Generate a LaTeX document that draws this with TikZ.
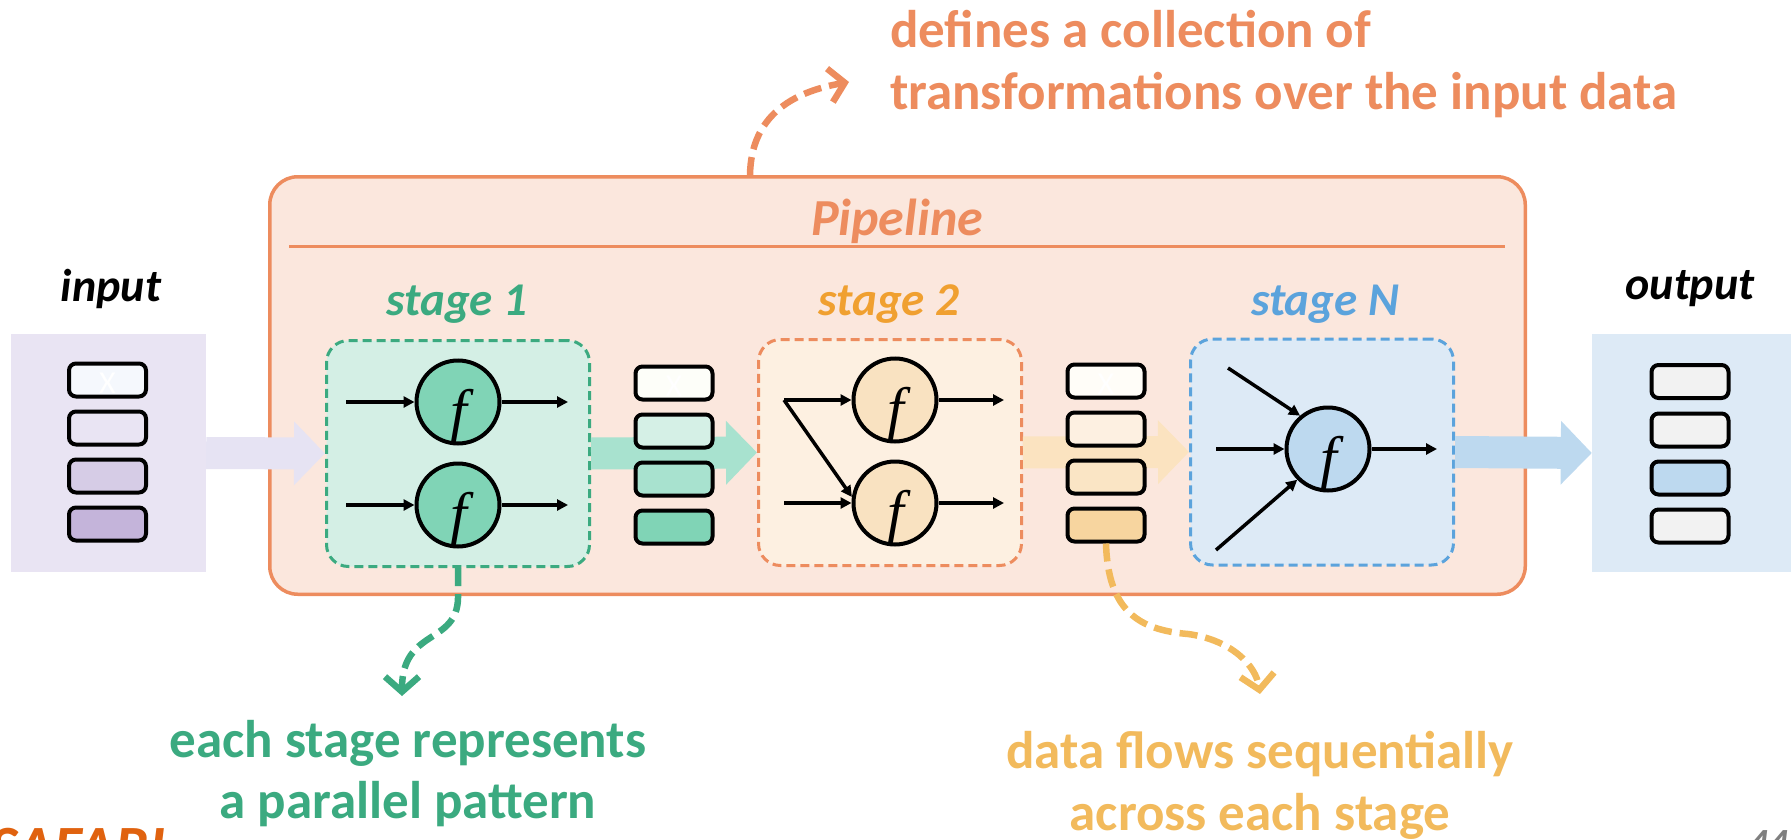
\documentclass[tikz,border=0pt]{standalone}
\usepackage{fontspec}
\setmainfont{Carlito}
\newfontfamily\fserif{Liberation Serif}
\usetikzlibrary{arrows.meta}
\definecolor{pipeO}{HTML}{ED8C5E}
\definecolor{pipeF}{HTML}{FBE7DD}
\definecolor{grn}{HTML}{3BAA80}
\definecolor{grnF}{HTML}{D4EFE5}
\definecolor{grnC}{HTML}{80D4B6}
\definecolor{grnM}{HTML}{A8E2CF}
\definecolor{grnL}{HTML}{D5F0E6}
\definecolor{stwo}{HTML}{F0A030}
\definecolor{ylwA}{HTML}{F2BA5C}
\definecolor{orgF}{HTML}{FDF0E1}
\definecolor{orgC}{HTML}{F9E2C1}
\definecolor{orgM}{HTML}{FAE5C5}
\definecolor{orgD}{HTML}{F7D59F}
\definecolor{orgA}{HTML}{FBE3C0}
\definecolor{blu}{HTML}{5BA3DC}
\definecolor{bluF}{HTML}{DDEAF6}
\definecolor{bluC}{HTML}{BDD9EF}
\definecolor{lavF}{HTML}{E9E4F3}
\definecolor{lavA}{HTML}{E6E3F3}
\definecolor{lav2}{HTML}{D6CCE6}
\definecolor{lav3}{HTML}{C4B4DA}
\definecolor{safari}{HTML}{E0620F}
\definecolor{cellG}{HTML}{F2F2F2}
\definecolor{pgnum}{HTML}{7F7F7F}
\begin{document}
\begin{tikzpicture}[x=1pt,y=-1pt,
  cell/.style={draw=black, line width=4pt, rounded corners=7pt, minimum width=77pt, minimum height=33pt, inner sep=0pt},
  fcirc/.style={circle, draw=black, line width=4pt, minimum size=83pt, inner sep=0pt},
  ftext/.style={anchor=base, inner sep=0pt, font=\fserif\itshape\fontsize{60}{60}\selectfont},
  stagebox/.style={dashed, dash pattern=on 9pt off 5pt, line width=3pt, rounded corners=22pt, minimum width=263pt, minimum height=226pt, inner sep=0pt},
  fatarr/.style={line width=32pt, -{Triangle[length=31pt,width=62pt]}},
  sarr/.style={line width=3.5pt, -{Triangle[length=11pt,width=11pt]}},
  note/.style={line width=6.5pt, dash pattern=on 18pt off 8pt, -{Straight Barb[length=15pt,width=34pt]}},
  lbl/.style={inner sep=0pt, font=\bfseries\itshape\fontsize{47}{50}\selectfont},
  ann/.style={inner sep=0pt, anchor=base, font=\bfseries\fontsize{53}{60}\selectfont},
  xmark/.style={inner sep=0pt, text=white, font=\fontsize{32}{32}\selectfont}
]
\clip (0,0) rectangle (1791,840);
\useasboundingbox (0,0) rectangle (1791,840);

% pipeline container
\node[draw=pipeO, fill=pipeF, line width=3.5pt, rounded corners=28pt, minimum width=1255.5pt, minimum height=417.5pt, inner sep=0pt] (pipe) at (897.5,385.5) {};
\coordinate (ulA) at (289,246);
\coordinate (ulB) at (1505,246);
\draw[pipeO, line width=3pt] (ulA) -- (ulB);
\node[lbl, text=pipeO, font=\bfseries\itshape\fontsize{52}{54}\selectfont] (ptitle) at (897,221) {Pipeline};

% input / output boxes
\node[fill=lavF, minimum width=195pt, minimum height=238pt, inner sep=0pt] (inbox) at (108.5,453) {};
\node[fill=bluF, minimum width=199pt, minimum height=238pt, inner sep=0pt] (outbox) at (1691.5,453) {};
\node[lbl, font=\bfseries\itshape\fontsize{46}{50}\selectfont] (inlbl) at (111,289) {input};
\node[lbl, font=\bfseries\itshape\fontsize{46}{50}\selectfont] (outlbl) at (1690,289) {output};

% stage boxes
\node[stagebox, draw=grn, fill=grnF] (st1) at (458,453.5) {};
\node[stagebox, draw=pipeO, fill=orgF] (st2) at (890,452.5) {};
\node[stagebox, draw=blu, fill=bluF] (stN) at (1322,452) {};
\node[lbl, text=grn] (st1lbl) at (457,304) {stage 1};
\node[lbl, text=stwo] (st2lbl) at (889,304) {stage 2};
\node[lbl, text=blu] (stNlbl) at (1325,304) {stage N};

% fat flow arrows
\draw[fatarr, lavA] (inbox.east) -- (st1.west);
\draw[fatarr, grnM] (st1.east) -- (st2.west);
\draw[fatarr, orgA] (st2.east) -- (stN.west);
\draw[fatarr, bluC] (stN.east) -- (outbox.west);

% input cells
\node[cell, fill={rgb,255:red,245;green,248;blue,253}] (ia) at (107.5,380) {};
\node[cell, fill=lavF] (ib) at (107.5,428) {};
\node[cell, fill=lav2] (ic) at (107.5,476) {};
\node[cell, fill=lav3] (id) at (107.5,524) {};
\node[xmark] (iax) at (107.5,383) {X};
% buffer 1
\node[cell, fill={rgb,255:red,253;green,254;blue,249}] (ba) at (674,383) {};
\node[cell, fill=grnL] (bb) at (674,431) {};
\node[cell, fill=grnM] (bc) at (674,479) {};
\node[cell, fill=grnC] (bd) at (674,527) {};
\node[xmark] (bax) at (674,386) {X};
% buffer 2
\node[cell, fill={rgb,255:red,255;green,253;blue,248}] (b2a) at (1106,381) {};
\node[cell, fill=orgF] (b2b) at (1106,429) {};
\node[cell, fill=orgM] (b2c) at (1106,477) {};
\node[cell, fill=orgD] (b2d) at (1106,525) {};
\node[xmark] (b2ax) at (1106,384) {X};
% output cells
\node[cell, fill=cellG] (oa) at (1690,381.5) {};
\node[cell, fill=cellG] (ob) at (1690,430) {};
\node[cell, fill=bluC] (oc) at (1690,478) {};
\node[cell, fill=cellG] (od) at (1690,526) {};

% stage 1 functions
\node[fcirc, fill=grnC] (c1a) at (458,402) {};
\node[fcirc, fill=grnC] (c1b) at (458,505) {};
\node[ftext] (f1a) at (459,431) {f};
\node[ftext] (f1b) at (459,534) {f};
\coordinate (s1a) at (346,402);
\coordinate (s1b) at (568,402);
\coordinate (s1c) at (346,505);
\coordinate (s1d) at (568,505);
\draw[sarr] (s1a) -- (c1a.west);
\draw[sarr] (c1a.east) -- (s1b);
\draw[sarr] (s1c) -- (c1b.west);
\draw[sarr] (c1b.east) -- (s1d);

% stage 2 functions
\node[fcirc, fill=orgC] (c2a) at (895,400) {};
\node[fcirc, fill=orgC] (c2b) at (895,503) {};
\node[ftext] (f2a) at (896,429) {f};
\node[ftext] (f2b) at (896,532) {f};
\coordinate (s2a) at (784,400);
\coordinate (s2b) at (1004,400);
\coordinate (s2c) at (784,503);
\coordinate (s2d) at (1004,503);
\draw[sarr] (s2a) -- (c2a.west);
\draw[sarr] (s2a) -- (c2b.172);
\draw[sarr] (c2a.east) -- (s2b);
\draw[sarr] (s2c) -- (c2b.west);
\draw[sarr] (c2b.east) -- (s2d);

% stage N function
\node[fcirc, fill=bluC] (cN) at (1328,449) {};
\node[ftext] (fN) at (1329,478) {f};
\coordinate (sn1) at (1228,368);
\coordinate (sn2) at (1216,449);
\coordinate (sn3) at (1216,550);
\coordinate (sn4) at (1437,449);
\draw[sarr] (sn1) -- (cN.130);
\draw[sarr] (sn2) -- (cN.west);
\draw[sarr] (sn3) -- (cN.225);
\draw[sarr] (cN.east) -- (sn4);

% annotations
\coordinate (t1) at (750,175);
\coordinate (t2) at (849,82);
\draw[note, pipeO] (t1) .. controls (751,116) and (792,92) .. (t2);
\node[ann, anchor=base west, text=pipeO] (tt1) at (890,48) {defines a collection of};
\node[ann, anchor=base west, text=pipeO] (tt2) at (890,110) {transformations over the input data};

\coordinate (g2) at (402,696);
\draw[note, grn] (st1.south) -- ++(0,30) .. controls (457,645) and (402,628) .. (g2);
\node[ann, text=grn] (gt1) at (408,757) {each stage represents};
\node[ann, text=grn] (gt2) at (408,818) {a parallel pattern};

\coordinate (y1) at (1188,634);
\coordinate (y2) at (1260,694);
\draw[note, ylwA] (b2d.south) .. controls (1108,612) and (1140,630) .. (y1) .. controls (1232,640) and (1256,666) .. (y2);
\node[ann, text=ylwA] (yt1) at (1260,768) {data flows sequentially};
\node[ann, text=ylwA] (yt2) at (1260,830) {across each stage};

% footer remnants
\node[inner sep=0pt, anchor=base west, text=safari, font=\bfseries\itshape\fontsize{60}{60}\selectfont] (safari) at (-10,867) {SAFARI};
\node[inner sep=0pt, anchor=base west, text=pgnum, font=\bfseries\itshape\fontsize{40}{40}\selectfont] (pg) at (1748,856) {44};
\end{tikzpicture}
\end{document}
